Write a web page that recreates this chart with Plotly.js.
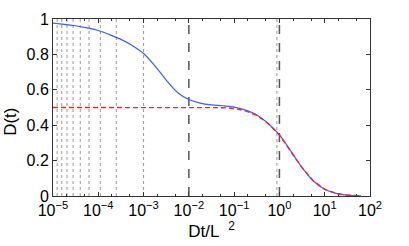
<!DOCTYPE html>
<html>
<head>
<meta charset="utf-8">
<script src="https://cdn.plot.ly/plotly-3.0.1.min.js"></script>
<style>html,body{margin:0;padding:0;background:#fff;}#chart{width:409px;height:246px;}</style>
</head>
<body>
<div id="chart"></div>
<script>
// log10(Dt/L^2) sample positions
const logT = [-5, -4.75, -4.5, -4.25, -4, -3.75, -3.5, -3.25, -3, -2.75, -2.5, -2.25, -2, -1.75, -1.5, -1.25, -1, -0.75, -0.5, -0.25, 0, 0.25, 0.5, 0.75, 1, 1.25, 1.5, 1.8];
const blueD = [0.977, 0.970, 0.962, 0.950, 0.935, 0.912, 0.885, 0.850, 0.805, 0.735, 0.655, 0.585, 0.545, 0.525, 0.515, 0.510, 0.502, 0.485, 0.458, 0.410, 0.345, 0.255, 0.160, 0.085, 0.038, 0.015, 0.005, 0.001];
const redD  = [0.5, 0.5, 0.5, 0.5, 0.5, 0.5, 0.5, 0.5, 0.5, 0.5, 0.5, 0.5, 0.5, 0.5, 0.5, 0.499, 0.494, 0.481, 0.456, 0.410, 0.345, 0.255, 0.160, 0.085, 0.038, 0.015, 0.005, 0.001];
const dottedT = [1e-3/4, 1e-3/9, 1e-3/16, 1e-3/25, 1e-3/36, 1e-3/49, 1e-3/64, 1e-3/81, 1e-3, 0.88];
const dashedT = [1e-2, 1];
const xTickVals = [1e-5, 1e-4, 1e-3, 1e-2, 1e-1, 1, 10, 100];
const xTickText = ['10<sup>−5</sup>','10<sup>−4</sup>','10<sup>−3</sup>','10<sup>−2</sup>','10<sup>−1</sup>','10<sup>0</sup>','10<sup>1</sup>','10<sup>2</sup>'];
const yTickVals = [0, 0.2, 0.4, 0.6, 0.8, 1];
const yTickText = ['0', '0.2', '0.4', '0.6', '0.8', '1'];

const tVals = logT.map(v => Math.pow(10, v));
const traces = [];
dottedT.forEach(t => traces.push({x:[t,t], y:[0,1], mode:'lines', line:{color:'#999', width:1, dash:'dot'}, hoverinfo:'skip'}));
dashedT.forEach(t => traces.push({x:[t,t], y:[0,1], mode:'lines', line:{color:'#555', width:1.5, dash:'dash'}, hoverinfo:'skip'}));
traces.push({x:tVals, y:blueD, mode:'lines', line:{color:'#3a5cff', width:1.2, shape:'spline'}});
traces.push({x:tVals, y:redD, mode:'lines', line:{color:'#ff2020', width:1.4, dash:'5px,3px', shape:'linear'}});

const fam = 'Liberation Sans, Arial, sans-serif';
const layout = {
  width:409, height:246,
  margin:{l:53, r:39, t:19, b:50},
  showlegend:false,
  paper_bgcolor:'#fff', plot_bgcolor:'#fff',
  font:{family:fam, size:16, color:'#000'},
  xaxis:{type:'log', range:[-5,2], tickvals:xTickVals, ticktext:xTickText, ticks:'inside', ticklen:4, tickcolor:'#333',
    minor:{ticks:'inside', ticklen:2, tickcolor:'#333'},
    showline:true, linecolor:'#333', linewidth:1, mirror:'ticks', showgrid:false, zeroline:false,
    tickfont:{family:fam, size:16, color:'#000'},
    title:{text:'Dt/L  <sup>2</sup>', font:{family:fam, size:17, color:'#000'}, standoff:4}},
  yaxis:{range:[0,1], tickvals:yTickVals, ticktext:yTickText, ticks:'inside', ticklen:4, tickcolor:'#333',
    showline:true, linecolor:'#333', linewidth:1, mirror:'ticks', showgrid:false, zeroline:false,
    tickfont:{family:fam, size:16, color:'#000'}},
  annotations:[{text:'D(t)', xref:'paper', yref:'paper', x:-0.135, y:0.42, textangle:-90, showarrow:false,
    font:{family:fam, size:17, color:'#000'}, xanchor:'center', yanchor:'middle'}]
};
Plotly.newPlot('chart', traces, layout, {displayModeBar:false, staticPlot:true});
</script>
</body>
</html>
